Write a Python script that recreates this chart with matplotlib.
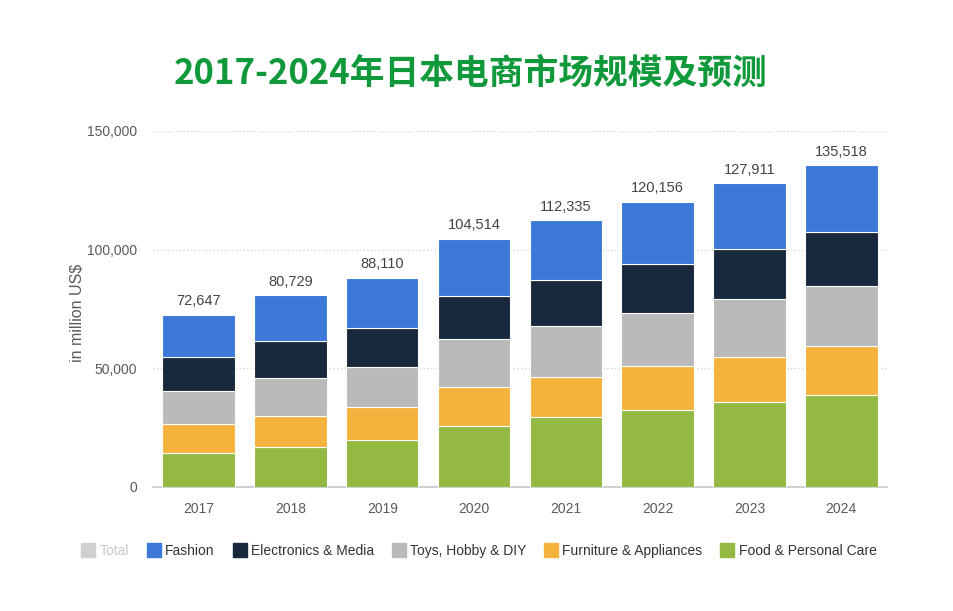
import matplotlib
matplotlib.use("Agg")
import matplotlib.pyplot as plt
from matplotlib.lines import Line2D
import numpy as np

years = ["2017", "2018", "2019", "2020", "2021", "2022", "2023", "2024"]
totals = [72647, 80729, 88110, 104514, 112335, 120156, 127911, 135518]
food = [14200, 17000, 19800, 25800, 29400, 32400, 35700, 38800]
furniture = [12300, 12900, 14000, 16500, 16800, 18600, 19200, 20700]
toys = [14100, 15900, 16600, 19900, 21700, 22200, 24200, 25300]
electronics = [14300, 15700, 16700, 18400, 19300, 20700, 21200, 22500]
fashion = [t - a - b - c - d for t, a, b, c, d in zip(totals, food, furniture, toys, electronics)]

series_names = ["Food & Personal Care", "Furniture & Appliances", "Toys, Hobby & DIY",
                "Electronics & Media", "Fashion"]
series_vals = [food, furniture, toys, electronics, fashion]
colors = ["#93b942", "#f5b23d", "#bababa", "#18283d", "#3b78d8"]
yticks = [0, 50000, 100000, 150000]
ytick_labels = ["0", "50,000", "100,000", "150,000"]
title = "2017-2024年日本电商市场规模及预测"

plt.rcParams['font.family'] = ['Liberation Sans', 'DejaVu Sans']

fig = plt.figure(figsize=(9.54, 6.11), dpi=100)
ax = fig.add_axes([0.160, 0.203, 0.770, 0.5826])

x = np.arange(len(years))
bottom = np.zeros(len(years))
for name, vals, c in zip(series_names, series_vals, colors):
    ax.bar(x, vals, width=0.79, bottom=bottom, color=c, edgecolor="white",
           linewidth=0.8, label=name, zorder=3)
    bottom += np.array(vals)

for xi, t in zip(x, totals):
    ax.text(xi, t + 2800, f"{t:,}", ha="center", va="bottom", fontsize=10.5,
            color="#444444", zorder=4)

ax.set_xlim(-0.5, 7.5)
ax.set_ylim(0, 150000)
ax.set_yticks(yticks)
ax.set_yticklabels(ytick_labels)
ax.set_xticks(x)
ax.set_xticklabels(years)
ax.tick_params(axis="both", length=0, colors="#5a5a5a", labelsize=10)
ax.tick_params(axis="x", pad=11)
ax.tick_params(axis="y", pad=11)
ax.yaxis.grid(True, linestyle=(0, (1, 2)), color="#cfcfcf", linewidth=0.9, zorder=0)
for s in ["top", "right", "left"]:
    ax.spines[s].set_visible(False)
ax.spines["bottom"].set_color("#c8c8c8")
ax.spines["bottom"].set_linewidth(1.2)
ax.set_ylabel("in million US$", fontsize=11.5, color="#5a5a5a")
ax.yaxis.set_label_coords(-0.093, 0.49)

fig.text(0.493, 0.880, title, ha="center", va="center", fontsize=25,
         fontweight="bold", color="#10993a", family=["Noto Sans CJK SC", "DejaVu Sans"])

leg_names = ["Total", "Fashion", "Electronics & Media", "Toys, Hobby & DIY",
             "Furniture & Appliances", "Food & Personal Care"]
leg_colors = ["#d0d0d0", "#3b78d8", "#18283d", "#bababa", "#f5b23d", "#93b942"]
handles = [Line2D([0], [0], marker="s", linestyle="none", markersize=10,
                  markerfacecolor=c, markeredgecolor=c) for c in leg_colors]
leg = fig.legend(handles, leg_names, loc="center", bbox_to_anchor=(0.502, 0.099),
                 ncol=6, frameon=False, fontsize=10, handletextpad=0.3,
                 columnspacing=1.3, handlelength=1.0)
for i, txt in enumerate(leg.get_texts()):
    txt.set_color("#c8c8c8" if i == 0 else "#333333")

fig.savefig("out.png", dpi=100)
